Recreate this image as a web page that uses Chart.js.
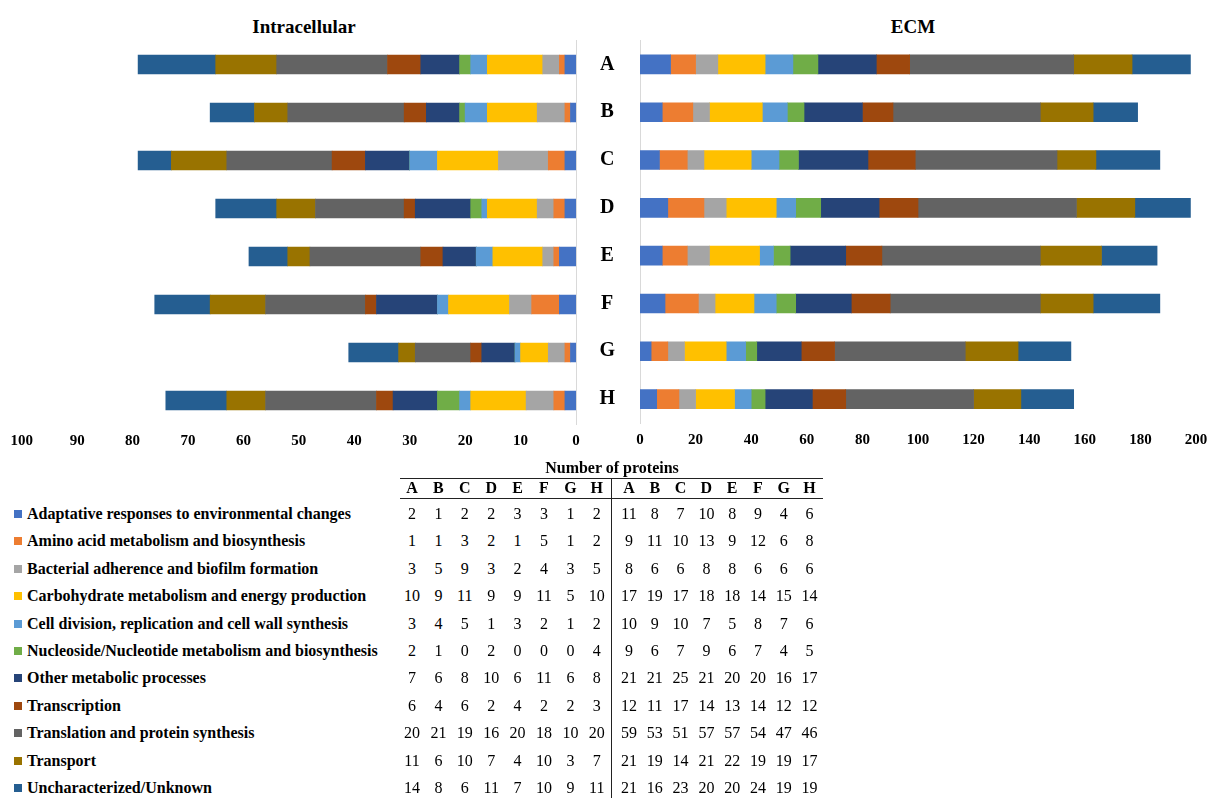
<!DOCTYPE html>
<html>
<head>
<meta charset="utf-8">
<script src="https://cdn.jsdelivr.net/npm/chart.js@4.4.1/dist/chart.umd.min.js"></script>
<style>
  html, body { margin: 0; padding: 0; background: #ffffff; }
  body { width: 1209px; height: 798px; position: relative; overflow: hidden;
         font-family: 'Liberation Serif', 'Times New Roman', serif; color: #000; }
  canvas { position: absolute; top: 0; }
  .title { position: absolute; top: 26px; font-weight: bold; font-size: 19px; line-height: 1;
           transform: translate(-50%, -50%); white-space: nowrap; }
  .cell { position: absolute; font-size: 16px; line-height: 1; transform: translate(-50%, -50%); white-space: nowrap; }
  .head { font-weight: bold; }
  .legend { position: absolute; left: 14px; font-size: 16px; line-height: 1; font-weight: bold;
            transform: translateY(-50%); white-space: nowrap; }
  .legend i { display: inline-block; width: 8px; height: 8px; margin-right: 5px; vertical-align: 1px; }
  .hline { position: absolute; height: 1.5px; background: #222; }
  .vline { position: absolute; width: 1.5px; background: #222; }
</style>
</head>
<body>
<div class="title" style="left:304px">Intracellular</div>
<div class="title" style="left:913px">ECM</div>
<canvas id="intra" width="600" height="460" style="left:0"></canvas>
<canvas id="ecm" width="640" height="460" style="left:580px"></canvas>
<div id="table"></div>

<script>
// Samples
const categories = ['A', 'B', 'C', 'D', 'E', 'F', 'G', 'H'];

// Functional groups and their colours
const groups = [
  'Adaptative responses to environmental changes',
  'Amino acid metabolism and biosynthesis',
  'Bacterial adherence and biofilm formation',
  'Carbohydrate metabolism and energy production',
  'Cell division, replication and cell wall synthesis',
  'Nucleoside/Nucleotide metabolism and biosynthesis',
  'Other metabolic processes',
  'Transcription',
  'Translation and protein synthesis',
  'Transport',
  'Uncharacterized/Unknown'
];
const groupColors = ['#4472C4', '#ED7D31', '#A5A5A5', '#FFC000', '#5B9BD5', '#70AD47',
                     '#264478', '#9E480E', '#636363', '#997300', '#255E91'];

// Intracellular protein counts per group (A..H)
const adaptativeIntra    = [2, 1, 2, 2, 3, 3, 1, 2];
const aminoAcidIntra     = [1, 1, 3, 2, 1, 5, 1, 2];
const adherenceIntra     = [3, 5, 9, 3, 2, 4, 3, 5];
const carbohydrateIntra  = [10, 9, 11, 9, 9, 11, 5, 10];
const cellDivisionIntra  = [3, 4, 5, 1, 3, 2, 1, 2];
const nucleotideIntra    = [2, 1, 0, 2, 0, 0, 0, 4];
const otherMetabolicIntra = [7, 6, 8, 10, 6, 11, 6, 8];
const transcriptionIntra = [6, 4, 6, 2, 4, 2, 2, 3];
const translationIntra   = [20, 21, 19, 16, 20, 18, 10, 20];
const transportIntra     = [11, 6, 10, 7, 4, 10, 3, 7];
const unknownIntra       = [14, 8, 6, 11, 7, 10, 9, 11];

// ECM protein counts per group (A..H)
const adaptativeEcm    = [11, 8, 7, 10, 8, 9, 4, 6];
const aminoAcidEcm     = [9, 11, 10, 13, 9, 12, 6, 8];
const adherenceEcm     = [8, 6, 6, 8, 8, 6, 6, 6];
const carbohydrateEcm  = [17, 19, 17, 18, 18, 14, 15, 14];
const cellDivisionEcm  = [10, 9, 10, 7, 5, 8, 7, 6];
const nucleotideEcm    = [9, 6, 7, 9, 6, 7, 4, 5];
const otherMetabolicEcm = [21, 21, 25, 21, 20, 20, 16, 17];
const transcriptionEcm = [12, 11, 17, 14, 13, 14, 12, 12];
const translationEcm   = [59, 53, 51, 57, 57, 54, 47, 46];
const transportEcm     = [21, 19, 14, 21, 22, 19, 19, 17];
const unknownEcm       = [21, 16, 23, 20, 20, 24, 19, 19];

// Axis ticks
const intraTicks = [0, 10, 20, 30, 40, 50, 60, 70, 80, 90, 100];
const ecmTicks = [0, 20, 40, 60, 80, 100, 120, 140, 160, 180, 200];

const intraSeries = [adaptativeIntra, aminoAcidIntra, adherenceIntra, carbohydrateIntra, cellDivisionIntra,
  nucleotideIntra, otherMetabolicIntra, transcriptionIntra, translationIntra, transportIntra, unknownIntra];
const ecmSeries = [adaptativeEcm, aminoAcidEcm, adherenceEcm, carbohydrateEcm, cellDivisionEcm,
  nucleotideEcm, otherMetabolicEcm, transcriptionEcm, translationEcm, transportEcm, unknownEcm];

const serif = "'Liberation Serif', 'Times New Roman', serif";

function makeDatasets(series) {
  return series.map((values, i) => ({
    label: groups[i],
    data: values,
    backgroundColor: groupColors[i],
    borderWidth: 0,
    barThickness: 19
  }));
}

const commonPlugins = { legend: { display: false }, tooltip: { enabled: false }, title: { display: false } };
const noGrid = { display: false, drawTicks: false };

// Intracellular: bars grow leftwards from the centre
new Chart(document.getElementById('intra'), {
  type: 'bar',
  data: { labels: categories, datasets: makeDatasets(intraSeries) },
  options: {
    indexAxis: 'y', responsive: false, animation: false, devicePixelRatio: 1,
    layout: { padding: { left: 21.7, right: 24, top: 40.5, bottom: 5.5 } },
    plugins: commonPlugins,
    scales: {
      x: {
        stacked: true, reverse: true, min: intraTicks[0], max: intraTicks[intraTicks.length - 1],
        afterBuildTicks: s => { s.ticks = intraTicks.map(v => ({ value: v })); },
        afterFit: s => { s.height = 30; },
        grid: noGrid, border: { display: false },
        ticks: { padding: 8, color: '#000', font: { family: serif, size: 15, weight: 'bold' } }
      },
      y: {
        stacked: true, position: 'right',
        afterFit: s => { s.width = 0; },
        grid: noGrid, border: { display: true, color: '#d9d9d9', width: 1 },
        ticks: { display: false }
      }
    }
  }
});

// ECM: bars grow rightwards, sample letters on the shared middle axis
new Chart(document.getElementById('ecm'), {
  type: 'bar',
  data: { labels: categories, datasets: makeDatasets(ecmSeries) },
  options: {
    indexAxis: 'y', responsive: false, animation: false, devicePixelRatio: 1,
    layout: { padding: { left: 0, right: 24, top: 40.5, bottom: 5.5 } },
    plugins: commonPlugins,
    scales: {
      x: {
        stacked: true, min: ecmTicks[0], max: ecmTicks[ecmTicks.length - 1],
        afterBuildTicks: s => { s.ticks = ecmTicks.map(v => ({ value: v })); },
        afterFit: s => { s.height = 30; },
        grid: noGrid, border: { display: false },
        ticks: { padding: 8, color: '#000', font: { family: serif, size: 15, weight: 'bold' } }
      },
      y: {
        stacked: true, position: 'left',
        afterFit: s => { s.width = 60; },
        grid: noGrid, border: { display: true, color: '#d9d9d9', width: 1 },
        ticks: { crossAlign: 'center', padding: 25, color: '#000', font: { family: serif, size: 20, weight: 'bold' } }
      }
    }
  }
});

// Counts table with legend keys
(function buildTable() {
  const host = document.getElementById('table');
  const add = (html) => host.insertAdjacentHTML('beforeend', html);
  const rowY = i => 514 + i * 27.4;
  const intraX = j => 412 + j * 26.4;
  const ecmX = j => 629 + j * 25.8;

  add('<div class="cell head" style="left:612px;top:468px">Number of proteins</div>');
  add('<div class="hline" style="left:400px;top:477.5px;width:423px"></div>');
  add('<div class="hline" style="left:400px;top:497.5px;width:423px"></div>');
  add('<div class="vline" style="left:610.5px;top:477.5px;height:321px"></div>');

  categories.forEach((c, j) => {
    add(`<div class="cell head" style="left:${intraX(j)}px;top:488px">${c}</div>`);
    add(`<div class="cell head" style="left:${ecmX(j)}px;top:488px">${c}</div>`);
  });

  groups.forEach((g, i) => {
    const y = rowY(i);
    add(`<div class="legend" style="top:${y}px"><i style="background:${groupColors[i]}"></i>${g}</div>`);
    intraSeries[i].forEach((v, j) => add(`<div class="cell" style="left:${intraX(j)}px;top:${y}px">${v}</div>`));
    ecmSeries[i].forEach((v, j) => add(`<div class="cell" style="left:${ecmX(j)}px;top:${y}px">${v}</div>`));
  });
})();
</script>
</body>
</html>
